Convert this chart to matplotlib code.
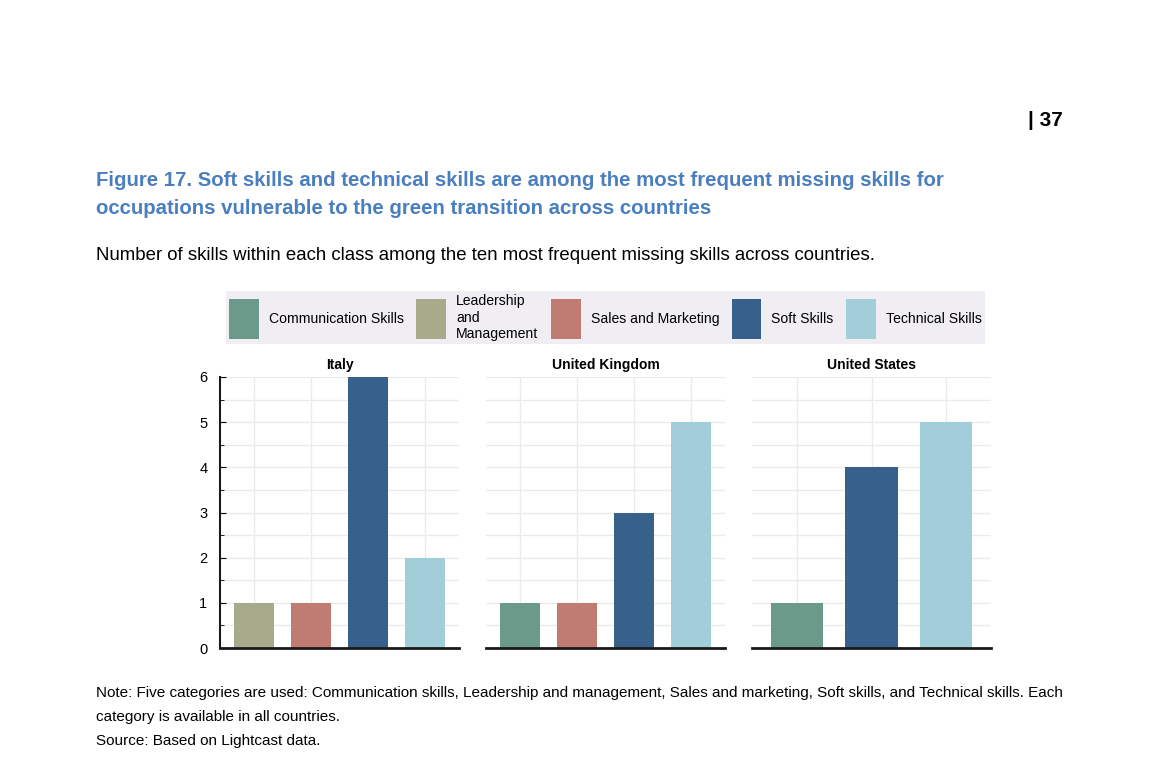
import matplotlib.pyplot as plt
import matplotlib.patches as pth

categories = ['Communication Skills', 'Leadership\nand\nManagement',
              'Sales and Marketing', 'Soft Skills', 'Technical Skills']
colors = ['#6b9a8a', '#a8ab8b', '#c07b72', '#37618a', '#a2ced9']

countries = ['Italy', 'United Kingdom', 'United States']
# category index and value of each bar, per country
italyCats = [1, 2, 3, 4]
italyVals = [1, 1, 6, 2]
ukCats = [0, 2, 3, 4]
ukVals = [1, 1, 3, 5]
usCats = [0, 3, 4]
usVals = [1, 4, 5]

plt.rcParams['font.family'] = ['Liberation Sans', 'DejaVu Sans']

figure = plt.figure(figsize=(11.6, 7.7), dpi=100)

figure.text(1063/1160, 1-120/770, '| 37', fontsize=15,
            fontweight='bold', ha='right', va='center')
figure.text(96/1160, 1-195/770,
            'Figure 17. Soft skills and technical skills are among the most '
            'frequent missing skills for\noccupations vulnerable to the green '
            'transition across countries',
            fontsize=14.7, fontweight='bold', color='#4a7ebf',
            ha='left', va='center', linespacing=1.6)
figure.text(96/1160, 1-255/770,
            'Number of skills within each class among the ten most frequent '
            'missing skills across countries.',
            fontsize=13.4, ha='left', va='center')
figure.text(96/1160, 1-717/770,
            'Note: Five categories are used: Communication skills, Leadership '
            'and management, Sales and marketing, Soft skills, and Technical '
            'skills. Each\ncategory is available in all countries.\n'
            'Source: Based on Lightcast data.',
            fontsize=10.95, ha='left', va='center', linespacing=1.91)

panels = [(italyCats, italyVals, 220), (ukCats, ukVals, 486),
          (usCats, usVals, 752)]
for index, (cats, vals, left) in enumerate(panels):
    axes = figure.add_axes([left/1160, 122/770, 239/1160, 271/770])
    xs = list(range(len(cats)))
    axes.bar(xs, vals, width=0.7, color=[colors[c] for c in cats],
             zorder=3)
    axes.set_xlim(-0.6, len(cats)-0.4)
    axes.set_ylim(0, 6)
    axes.set_xticks(xs)
    axes.set_xticklabels([])
    axes.set_yticks(range(7))
    axes.set_yticks([i+0.5 for i in range(6)], minor=True)
    axes.grid(True, which='both', color='#ebebeb', linewidth=1, zorder=0)
    axes.tick_params(axis='x', direction='in', length=4, width=1.2,
                     color='#222222')
    for side in ['top', 'right']:
        axes.spines[side].set_visible(False)
    axes.spines['bottom'].set_linewidth(2)
    axes.spines['bottom'].set_color('#1a1a1a')
    axes.spines['bottom'].set_zorder(4)
    if index == 0:
        axes.spines['left'].set_linewidth(1.5)
        axes.spines['left'].set_color('#1a1a1a')
        axes.tick_params(axis='y', which='both', direction='in', length=4,
                         labelsize=10.5, pad=9)
        axes.tick_params(axis='y', which='minor', length=3)
    else:
        axes.spines['left'].set_visible(False)
        axes.tick_params(axis='y', which='both', length=0, labelleft=False)
    axes.set_title(countries[index], fontsize=10, fontweight='bold', pad=6)

handles = [pth.Patch(facecolor=c, edgecolor='none') for c in colors]
legend = figure.legend(handles, categories, loc='center',
                       bbox_to_anchor=(605.5/1160, 1-317.5/770), ncol=5,
                       fontsize=10.1, frameon=True, fancybox=False,
                       facecolor='#f0eef2', edgecolor='none', framealpha=1,
                       handlelength=2.12, handleheight=4.0,
                       handletextpad=0.72, columnspacing=0.88, borderpad=0.2,
                       borderaxespad=0)

figure.savefig('out.png', dpi=100)
